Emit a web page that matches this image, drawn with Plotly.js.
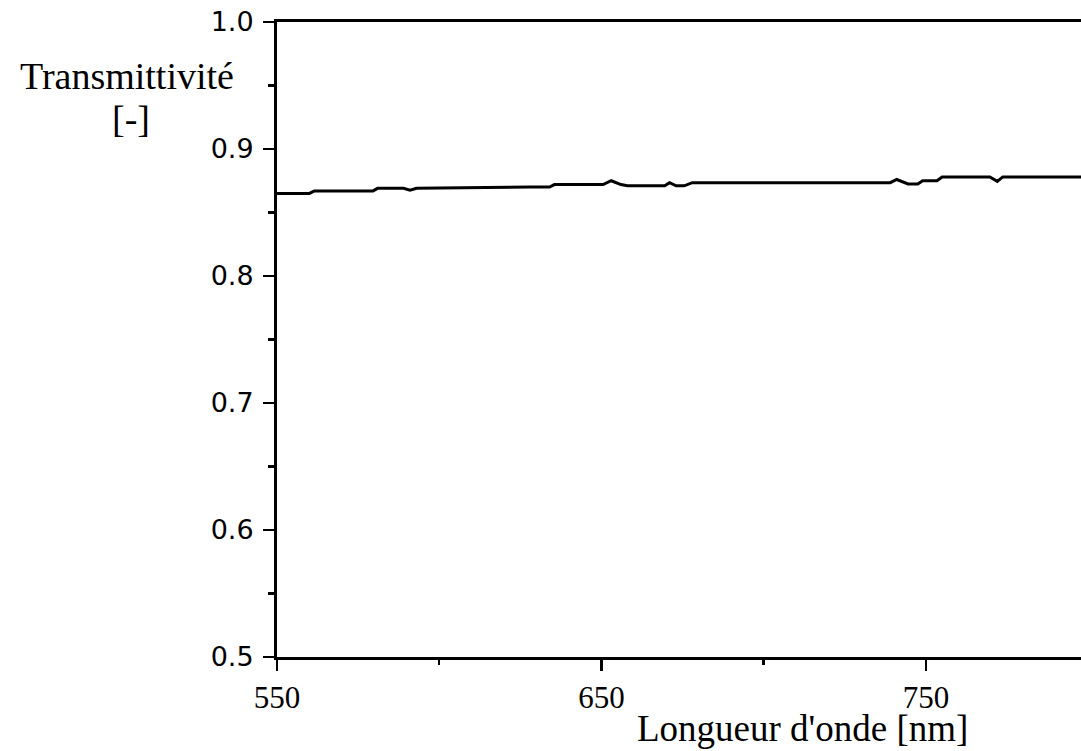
<!DOCTYPE html>
<html>
<head>
<meta charset="utf-8">
<script src="https://cdn.plot.ly/plotly-3.0.1.min.js"></script>
<style>
  html, body { margin: 0; padding: 0; background: #fff; }
  #chart { width: 1081px; height: 751px; }
</style>
</head>
<body>
<div id="chart"></div>
<script>
// Wavelength [nm]
const wavelength = [550, 560, 561.5, 579.6, 581, 589, 591, 593, 628, 634, 635.5, 650.5, 653, 656, 658,
  669.5, 671, 673, 675.5, 678, 739, 741, 744.5, 747.5, 749, 753.4, 755, 769.7, 772, 773.7, 797.8];
// Transmittance [-]
const transmittance = [0.865, 0.865, 0.867, 0.867, 0.869, 0.869, 0.8675, 0.869, 0.870, 0.870, 0.872, 0.872, 0.875, 0.872, 0.871,
  0.871, 0.8735, 0.871, 0.871, 0.8735, 0.8735, 0.876, 0.8725, 0.8725, 0.875, 0.875, 0.878, 0.878, 0.8745, 0.878, 0.878];

const xTickVals = [550, 650, 750];
const xTickText = ['550', '650', '750'];
const yTickVals = [0.5, 0.6, 0.7, 0.8, 0.9, 1.0];
const yTickText = ['0.5', '0.6', '0.7', '0.8', '0.9', '1.0'];

const serif = 'Liberation Serif, Times New Roman, serif';
const sans = 'DejaVu Sans, sans-serif';

const trace = {
  x: wavelength,
  y: transmittance,
  type: 'scatter',
  mode: 'lines',
  line: { color: '#000', width: 3 },
  hoverinfo: 'skip'
};

const layout = {
  width: 1081,
  height: 751,
  margin: { l: 277, r: 0, t: 22, b: 94, pad: 0 },
  paper_bgcolor: '#fff',
  plot_bgcolor: '#fff',
  showlegend: false,
  xaxis: {
    range: [550, 797.8],
    showgrid: false,
    zeroline: false,
    showline: true,
    linecolor: '#000',
    linewidth: 3,
    mirror: true,
    ticks: 'outside',
    ticklen: 11,
    tickwidth: 2.5,
    tickcolor: '#000',
    tickmode: 'array',
    tickvals: xTickVals,
    ticktext: xTickText,
    tickfont: { family: serif, size: 31, color: '#000' },
    minor: { ticks: 'outside', dtick: 50, tick0: 550, ticklen: 5, tickwidth: 2.5, tickcolor: '#000', showgrid: false }
  },
  yaxis: {
    range: [0.5, 1.0],
    showgrid: false,
    zeroline: false,
    showline: true,
    linecolor: '#000',
    linewidth: 3,
    mirror: false,
    ticks: 'outside',
    ticklen: 11,
    tickwidth: 2.5,
    tickcolor: '#000',
    tickmode: 'array',
    tickvals: yTickVals,
    ticktext: yTickText,
    ticklabelstandoff: 4,
    tickfont: { family: sans, size: 27, color: '#000' },
    minor: { ticks: 'outside', dtick: 0.05, tick0: 0.5, ticklen: 6, tickwidth: 2.5, tickcolor: '#000', showgrid: false }
  },
  annotations: [
    { text: 'Transmittivité', xref: 'paper', yref: 'paper', x: -0.1866, y: 0.915,
      xanchor: 'center', yanchor: 'middle', showarrow: false,
      font: { family: serif, size: 38, color: '#000' } },
    { text: '[-]', xref: 'paper', yref: 'paper', x: -0.1816, y: 0.847,
      xanchor: 'center', yanchor: 'middle', showarrow: false,
      font: { family: serif, size: 38, color: '#000' } },
    { text: "Longueur d'onde [nm]", xref: 'paper', yref: 'paper', x: 0.654, y: -0.147,
      xanchor: 'center', yanchor: 'bottom', showarrow: false, borderpad: 0,
      font: { family: serif, size: 37, color: '#000' } }
  ]
};

Plotly.newPlot('chart', [trace], layout, { displayModeBar: false, staticPlot: true });
</script>
</body>
</html>
